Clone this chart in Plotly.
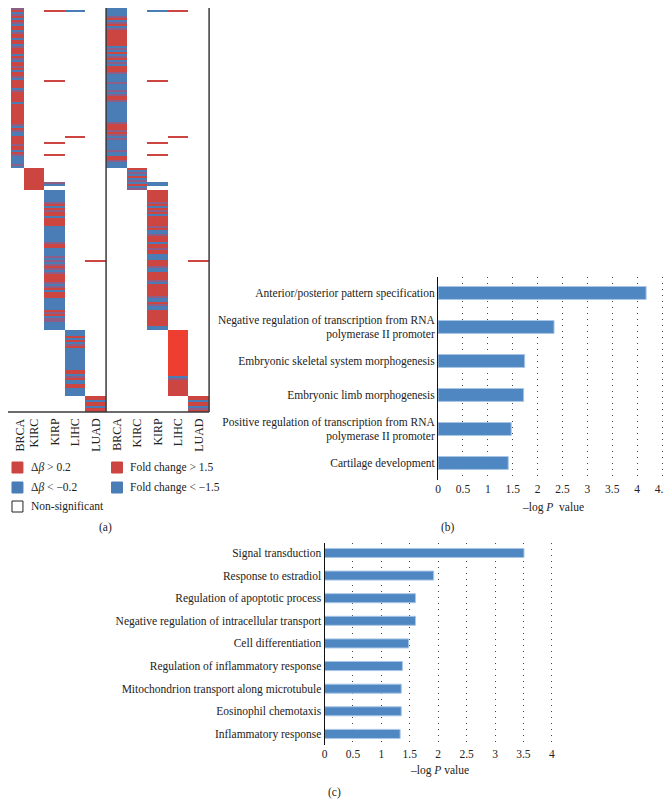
import plotly.graph_objects as go

# ---------------- DATA ----------------
cancers = ["BRCA", "KIRC", "KIRP", "LIHC", "LUAD"]
# status code per gene row for each cancer's own gene block
# R: up (red), B: down (blue), M: mixed stripes, L: strong up, '.': non-significant
meth_own = {
    "BRCA": "RRBBMRBMRB" "RMBRRBMRRB" "RRBMRRRBRM" "BRRMRBRRMB" "RRRRBMRRRR"
            "RBRRRRRRRR" "RRMBRMBBRR" "RRMRRBRMBB" "BBMB",
    "KIRC": "RRRRRRRRRRR",
    "KIRP": "BBBBBBM" "RBRMRRBR" "RRRBB" "BBBBBBM" "RRB" "BBBMB" "MBMRMBM"
            "RRRRM" "BMRB" "RRRB" "BBBBB" "RMRB" "MMBBBB",
    "LIHC": "BBB" "RB" "RB" "MR" "BBBBBBBBBBB" "RR" "BM" "RB" "BR" "RB" "BBB",
    "LUAD": "RRBRRBRR",
}
expr_own = {
    "BRCA": "BBBBBBBB" "MRBMRBM" "RRRRRRRR" "BMBRBMRBMB" "RRRMBB" "BBMBBBMB"
            "MRRMB" "BBBBBBBBBM" "RRRMRMBM" "BBBBBMBB" "RRMBBB",
    "KIRC": "RBMBRBMBRBM",
    "KIRP": "RRRRRRMR" "BRMRBRR" "RRRMR" "BBMRR" "RBRRMR" "RBBBRR" "RMBBRR"
            "RRMBRR" "RRRRM" "BBRMB" "BRRRR" "RRRRBB",
    "LIHC": "L" * 23 + "BM" + "R" * 8,
    "LUAD": "RRBRRBMR",
}
# isolated significant cells: (gene row, panel, cancer column, code)
extras = [
    (5, "meth", "KIRP", "R"), (5, "meth", "LIHC", "B"),
    (5, "expr", "KIRP", "B"), (5, "expr", "LIHC", "R"),
    (40, "meth", "KIRP", "R"), (40, "expr", "KIRP", "R"),
    (68, "meth", "LIHC", "R"), (68, "expr", "LIHC", "R"),
    (71, "meth", "KIRP", "R"), (71, "expr", "KIRP", "R"),
    (77, "meth", "KIRP", "R"), (77, "expr", "KIRP", "R"),
    (91, "meth", "KIRP", "M"), (92, "meth", "KIRP", "B"),
    (91, "expr", "KIRP", "B"), (92, "expr", "KIRP", "B"),
    (130, "meth", "LUAD", "R"), (130, "expr", "LUAD", "R"),
]

terms_b = [
    "Anterior/posterior pattern specification",
    "Negative regulation of transcription from RNA<br>polymerase II promoter",
    "Embryonic skeletal system morphogenesis",
    "Embryonic limb morphogenesis",
    "Positive regulation of transcription from RNA<br>polymerase II promoter",
    "Cartilage development",
]
values_b = [4.18, 2.33, 1.74, 1.72, 1.47, 1.41]

terms_c = [
    "Signal transduction",
    "Response to estradiol",
    "Regulation of apoptotic process",
    "Negative regulation of intracellular transport",
    "Cell differentiation",
    "Regulation of inflammatory response",
    "Mitochondrion transport along microtubule",
    "Eosinophil chemotaxis",
    "Inflammatory response",
]
values_c = [3.51, 1.92, 1.60, 1.60, 1.48, 1.37, 1.35, 1.35, 1.33]

# ---------------- BUILD ----------------
OX, OY = 8, 8          # page body margin offset
W, H = 672 - OX, 808 - 2 * OY
def px(x): return (x - OX) / W
def py(y): return 1 - (y - OY) / H

code = {".": 0, "R": 1, "B": 2, "M": 3, "L": 4}
N = sum(len(meth_own[c]) for c in cancers)
z = [[0] * 10 for _ in range(N)]
start = 0
for gi, c in enumerate(cancers):
    for i, ch in enumerate(meth_own[c]):
        z[start + i][gi] = code[ch]
        z[start + i][gi + 5] = code[expr_own[c][i]]
    start += len(meth_own[c])
for row, panel, c, ch in extras:
    col = cancers.index(c) + (0 if panel == "meth" else 5)
    z[row][col] = code[ch]

RED, BLUE, MIX, BRIGHT = "#CC4541", "#4A7DB5", "#8F5E86", "#EE3D31"
cs = [[0, "#FFFFFF"], [0.2, "#FFFFFF"], [0.2, RED], [0.4, RED], [0.4, BLUE],
      [0.6, BLUE], [0.6, MIX], [0.8, MIX], [0.8, BRIGHT], [1, BRIGHT]]

SERIF = "Liberation Serif, Times New Roman, serif"
TXT = "#222222"

HM_W, HM_H = 207.0, 412.0
col_px = HM_W / 10
row_px = HM_H / N

fig = go.Figure()
fig.add_trace(go.Heatmap(z=z, x=list(range(10)), y=list(range(N)), colorscale=cs,
                         zmin=-0.5, zmax=4.5, showscale=False, hoverinfo="skip",
                         xaxis="x", yaxis="y"))

BAR = "#4F87C2"
BAR_EDGE = "#A9C6E6"
fig.add_trace(go.Bar(x=values_b, y=list(range(len(values_b))), orientation="h",
                     width=0.38, marker=dict(color=BAR, line=dict(color=BAR_EDGE, width=1)),
                     xaxis="x2", yaxis="y2", hoverinfo="skip"))
fig.add_trace(go.Bar(x=values_c, y=list(range(len(values_c))), orientation="h",
                     width=0.4, marker=dict(color=BAR, line=dict(color=BAR_EDGE, width=1)),
                     xaxis="x3", yaxis="y3", hoverinfo="skip"))

tickfont = dict(family=SERIF, size=11.5, color=TXT)
grid = dict(showgrid=True, griddash="1px,5px", gridcolor="#444444", gridwidth=1)

fig.update_layout(
    width=W, height=H, margin=dict(l=0, r=0, t=0, b=0),
    paper_bgcolor="white", plot_bgcolor="white", showlegend=False,
    xaxis=dict(domain=[0, px(HM_W)], range=[-0.5 + OX / col_px, 9.5], showticklabels=False,
               showgrid=False, zeroline=False, ticks="", anchor="y"),
    yaxis=dict(domain=[py(HM_H), 1], range=[N - 0.5, -0.5 + OY / row_px], showticklabels=False,
               showgrid=False, zeroline=False, ticks="", anchor="x"),
    xaxis2=dict(domain=[px(437), 1.0], range=[0, 4.7], dtick=0.5, zeroline=False,
                showline=False, ticks="", tickfont=tickfont, anchor="y2",
                ticklabeloverflow="allow", **grid),
    yaxis2=dict(domain=[py(480), py(277)], range=[5.5, -0.47], tickvals=list(range(6)),
                ticktext=terms_b, showline=True, linecolor="#111111", linewidth=1,
                showgrid=False, zeroline=False, ticks="", tickfont=tickfont, anchor="x2"),
    xaxis3=dict(domain=[px(323), px(557)], range=[0, 4.1], dtick=0.5, zeroline=False,
                showline=False, ticks="", tickfont=tickfont, anchor="y3",
                ticklabeloverflow="allow", **grid),
    yaxis3=dict(domain=[py(745), py(543)], range=[8.49, -0.44], tickvals=list(range(9)),
                ticktext=terms_c, showline=True, linecolor="#111111", linewidth=1,
                showgrid=False, zeroline=False, ticks="", tickfont=tickfont, anchor="x3"),
)

FRAME = dict(color="#3A3A3A", width=1.5)
shapes = [
    dict(type="line", xref="paper", yref="paper", x0=px(0), x1=px(HM_W),
         y0=py(HM_H), y1=py(HM_H), line=FRAME),
    dict(type="line", xref="paper", yref="paper", x0=px(HM_W / 2), x1=px(HM_W / 2),
         y0=py(0), y1=py(HM_H), line=FRAME),
    dict(type="line", xref="paper", yref="paper", x0=px(HM_W), x1=px(HM_W),
         y0=py(0), y1=py(HM_H), line=FRAME),
]

annotations = []
# heatmap column labels (rotated)
for i, name in enumerate(cancers * 2):
    cx = (i + 0.5) * col_px
    if i == 0:
        cx = max(cx, 17)   # keep first label inside the visible page
    annotations.append(dict(text=name, x=px(cx), y=py(416), xref="paper", yref="paper",
                            xanchor="center", yanchor="top", textangle=-90, showarrow=False,
                            font=dict(family=SERIF, size=12, color=TXT)))

legend_items = [
    (5, 462, RED, "Δ<i>β</i> &gt; 0.2"),
    (5, 482, BLUE, "Δ<i>β</i> &lt; −0.2"),
    (5, 501, "white", "Non-significant"),
    (109, 462, RED, "Fold change &gt; 1.5"),
    (109, 482, BLUE, "Fold change &lt; −1.5"),
]
for x, y, col, label in legend_items:
    x = max(x, 9)
    shapes.append(dict(type="rect", xref="paper", yref="paper", x0=px(x), x1=px(x + 11),
                       y0=py(y + 11), y1=py(y), fillcolor=col,
                       line=dict(color="#222222" if col == "white" else col, width=1)))
    annotations.append(dict(text=label, x=px(x + 17), y=py(y + 5.5), xref="paper", yref="paper",
                            xanchor="left", yanchor="middle", showarrow=False,
                            font=dict(family=SERIF, size=11.5, color=TXT)))

for text, x, y in [("(a)", 103, 527), ("(b)", 447, 527), ("(c)", 333, 792),
                   ("–log <i>P</i>  value", 552, 507), ("–log <i>P</i> value", 438, 770)]:
    annotations.append(dict(text=text, x=px(x), y=py(y), xref="paper", yref="paper",
                            xanchor="center", yanchor="middle", showarrow=False,
                            font=dict(family=SERIF, size=11.5, color=TXT)))

fig.update_layout(shapes=shapes, annotations=annotations)
fig.write_html("out.html")
